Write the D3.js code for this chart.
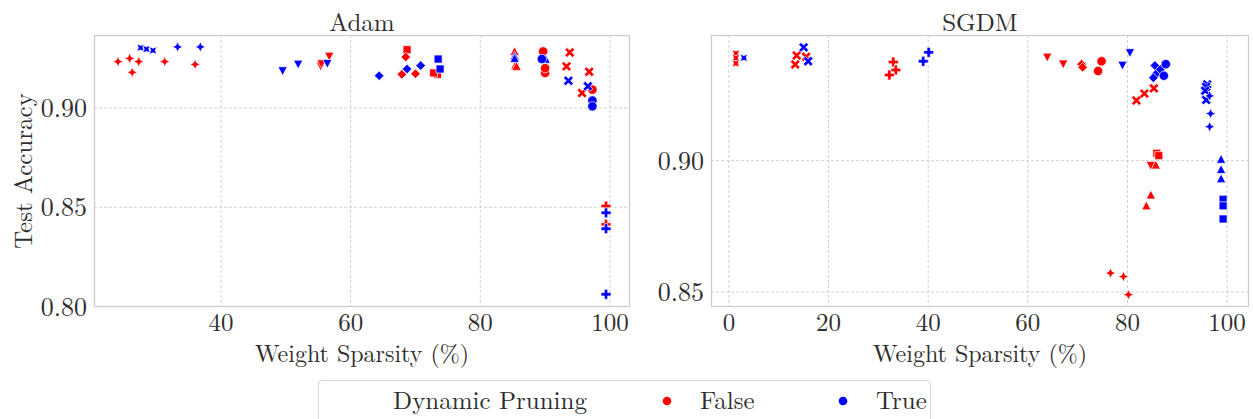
<!DOCTYPE html>
<html>
<head>
<meta charset="utf-8">
<script src="https://cdn.jsdelivr.net/npm/d3@7"></script>
<style>
  body { margin: 0; background: #fff; }
  svg text { font-family: "Latin Modern Roman", "CMU Serif", "Liberation Serif", serif; fill: #2e2e2e; }
</style>
</head>
<body>
<svg id="chart" width="1253" height="419"></svg>
<script>
// [sparsity %, test accuracy, marker]
// markers: o circle, X, s square, P plus, D diamond, S4 star, ^ up, S4r rotated star, v down
const adamFalse = [
  [24.1, 0.9233, 'S4'], [25.9, 0.9249, 'S4'], [27.3, 0.9233, 'S4'], [26.3, 0.9179, 'S4'],
  [31.3, 0.9233, 'S4'], [36.0, 0.9219, 'S4'],
  [55.4, 0.9209, 'v'], [56.7, 0.9259, 'v'], [55.5, 0.9221, 'v'],
  [68.7, 0.9293, 's'], [73.4, 0.9169, 's'], [72.8, 0.9176, 's'],
  [68.5, 0.9256, 'D'], [67.9, 0.9169, 'D'], [70.0, 0.9172, 'D'],
  [85.3, 0.9285, '^'], [85.4, 0.9215, '^'], [85.6, 0.9210, '^'],
  [89.7, 0.9284, 'o'], [90.0, 0.9176, 'o'], [90.0, 0.9200, 'o'],
  [93.8, 0.9279, 'X'], [93.3, 0.9209, 'X'], [96.8, 0.9182, 'X'], [95.7, 0.9075, 'X'],
  [97.3, 0.9092, 'o'],
  [99.4, 0.8506, 'P'], [99.4, 0.8414, 'P']
];
const adamTrue = [
  [27.6, 0.9303, 'S4r'], [28.5, 0.9296, 'S4r'], [29.5, 0.9289, 'S4r'], [33.3, 0.9307, 'S4'], [36.8, 0.9307, 'S4'],
  [49.5, 0.9186, 'v'], [51.9, 0.9219, 'v'], [56.4, 0.9223, 'v'],
  [64.4, 0.9162, 'D'], [68.7, 0.9196, 'D'], [70.8, 0.9213, 'D'],
  [73.5, 0.9246, 's'], [73.8, 0.9196, 's'],
  [85.3, 0.9262, '^'], [85.3, 0.9250, '^'], [90.1, 0.9246, '^'],
  [89.5, 0.9246, 'o'], [97.3, 0.9037, 'o'], [97.3, 0.9008, 'o'],
  [93.6, 0.9137, 'X'], [96.6, 0.9109, 'X'],
  [99.4, 0.8472, 'P'], [99.4, 0.8392, 'P'], [99.4, 0.8062, 'P']
];
const sgdmFalse = [
  [1.4, 0.9408, 'S4r'], [1.4, 0.9391, 'S4r'], [1.4, 0.9370, 'S4r'],
  [13.6, 0.9400, 'X'], [13.3, 0.9366, 'X'], [15.5, 0.9395, 'X'],
  [33.0, 0.9375, 'P'], [33.5, 0.9345, 'P'], [32.2, 0.9326, 'P'],
  [63.9, 0.9393, 'v'], [67.1, 0.9367, 'v'], [84.7, 0.8981, 'v'],
  [70.8, 0.9367, 'D'], [71.0, 0.9355, 'D'],
  [74.8, 0.9378, 'o'], [74.1, 0.9341, 'o'],
  [85.3, 0.9275, 'X'], [83.4, 0.9255, 'X'], [81.8, 0.9229, 'X'],
  [85.9, 0.9028, 's'], [86.3, 0.9019, 's'],
  [85.7, 0.8984, '^'], [84.7, 0.8870, '^'], [83.8, 0.8829, '^'],
  [76.6, 0.8572, 'S4'], [79.2, 0.8559, 'S4'], [80.2, 0.8490, 'S4']
];
const sgdmTrue = [
  [3.0, 0.9391, 'S4r'],
  [15.0, 0.9431, 'X'], [15.9, 0.9378, 'X'],
  [40.1, 0.9412, 'P'], [39.0, 0.9378, 'P'],
  [80.5, 0.9410, 'v'], [79.0, 0.9362, 'v'],
  [85.5, 0.9362, 'D'], [85.7, 0.9329, 'D'], [85.2, 0.9315, 'D'], [86.6, 0.9347, 'D'],
  [87.7, 0.9367, 'o'], [87.3, 0.9323, 'o'],
  [96.0, 0.9290, 'X'], [95.8, 0.9281, 'X'], [95.6, 0.9266, 'X'], [95.8, 0.9231, 'X'],
  [96.5, 0.9246, 'S4'], [96.7, 0.9179, 'S4'], [96.5, 0.9129, 'S4'],
  [98.8, 0.9006, '^'], [98.8, 0.8967, '^'], [98.8, 0.8932, '^'],
  [99.2, 0.8853, 's'], [99.2, 0.8828, 's'], [99.2, 0.8778, 's']
];

const adamXTicks = [40, 60, 80, 100];
const adamYTicks = [0.80, 0.85, 0.90];
const sgdmXTicks = [0, 20, 40, 60, 80, 100];
const sgdmYTicks = [0.85, 0.90];
const hueLevels = ['False', 'True'];
const hueColors = ['#ff0000', '#0000ff'];

const svg = d3.select('#chart');

function poly(pts) {
  return 'M' + pts.map(p => p[0].toFixed(2) + ',' + p[1].toFixed(2)).join('L') + 'Z';
}
function rotate(pts, deg) {
  const a = deg * Math.PI / 180;
  return pts.map(p => [p[0] * Math.cos(a) - p[1] * Math.sin(a), p[0] * Math.sin(a) + p[1] * Math.cos(a)]);
}
function star(outer, inner, deg) {
  const pts = [];
  for (let i = 0; i < 8; i++) {
    const r = i % 2 ? inner : outer;
    const a = (i * 45 + deg - 90) * Math.PI / 180;
    pts.push([r * Math.cos(a), r * Math.sin(a)]);
  }
  return poly(pts);
}
function plus(a, t) {
  return [[-t,-a],[t,-a],[t,-t],[a,-t],[a,t],[t,t],[t,a],[-t,a],[-t,t],[-a,t],[-a,-t],[-t,-t]];
}
function markerPath(m) {
  switch (m) {
    case 'o': return d3.symbol(d3.symbolCircle, Math.PI * 4.7 * 4.7)();
    case 's': return poly([[-4, -4], [4, -4], [4, 4], [-4, 4]]);
    case 'D': return poly([[0, -4.8], [4.8, 0], [0, 4.8], [-4.8, 0]]);
    case '^': return poly([[0, -4.6], [4.6, 4.2], [-4.6, 4.2]]);
    case 'v': return poly([[0, 4.6], [4.6, -4.2], [-4.6, -4.2]]);
    case 'P': return poly(plus(5, 1.7));
    case 'X': return poly(rotate(plus(5.4, 1.6), 45));
    case 'S4': return star(5.2, 2.3, 0);
    case 'S4r': return star(5.2, 2.3, 45);
  }
}

function drawPanel(cfg) {
  const x = d3.scaleLinear().domain(cfg.xDomain).range([cfg.left, cfg.right]);
  const y = d3.scaleLinear().domain(cfg.yDomain).range([cfg.bottom, cfg.top]);
  const g = svg.append('g');

  g.append('rect')
    .attr('x', cfg.left).attr('y', cfg.top)
    .attr('width', cfg.right - cfg.left).attr('height', cfg.bottom - cfg.top)
    .attr('fill', '#fff');

  g.selectAll('.vgrid').data(cfg.xTicks).enter().append('line')
    .attr('x1', d => x(d)).attr('x2', d => x(d))
    .attr('y1', cfg.top).attr('y2', cfg.bottom)
    .attr('stroke', '#d0d0d0').attr('stroke-width', 1).attr('stroke-dasharray', '3,2');
  g.selectAll('.hgrid').data(cfg.yTicks).enter().append('line')
    .attr('y1', d => y(d)).attr('y2', d => y(d))
    .attr('x1', cfg.left).attr('x2', cfg.right)
    .attr('stroke', '#d0d0d0').attr('stroke-width', 1).attr('stroke-dasharray', '3,2');

  g.append('rect')
    .attr('x', cfg.left + 0.5).attr('y', cfg.top + 0.5)
    .attr('width', cfg.right - cfg.left - 1).attr('height', cfg.bottom - cfg.top - 1)
    .attr('fill', 'none').attr('stroke', '#cccccc').attr('stroke-width', 1.25);

  g.selectAll('.xt').data(cfg.xTicks).enter().append('text')
    .attr('x', d => x(d)).attr('y', 331)
    .attr('text-anchor', 'middle').attr('font-size', 25)
    .text(d => d);
  g.selectAll('.yt').data(cfg.yTicks).enter().append('text')
    .attr('x', cfg.left - 7).attr('y', d => y(d) + 9)
    .attr('text-anchor', 'end').attr('font-size', 26)
    .text(d => d.toFixed(2));

  g.append('text')
    .attr('x', (cfg.left + cfg.right) / 2).attr('y', 31)
    .attr('text-anchor', 'middle').attr('font-size', 25)
    .text(cfg.title);
  g.append('text')
    .attr('x', (cfg.left + cfg.right) / 2).attr('y', 362)
    .attr('text-anchor', 'middle').attr('font-size', 24)
    .text('Weight Sparsity (%)');

  const pts = cfg.series.flatMap((s, i) => s.map(d => ({ x: d[0], y: d[1], m: d[2], c: hueColors[i] })));
  g.selectAll('.pt').data(pts).enter().append('path')
    .attr('d', d => markerPath(d.m))
    .attr('transform', d => `translate(${x(d.x)},${y(d.y)})`)
    .attr('fill', d => d.c)
    .attr('stroke', '#fff').attr('stroke-width', 0.7);
}

drawPanel({
  title: 'Adam', left: 94, right: 630, top: 35, bottom: 307,
  xDomain: [20.4, 103.1], yDomain: [0.7998, 0.9367],
  xTicks: adamXTicks, yTicks: adamYTicks, series: [adamFalse, adamTrue]
});
drawPanel({
  title: 'SGDM', left: 711, right: 1249, top: 35, bottom: 307,
  xDomain: [-3.6, 104.4], yDomain: [0.8443, 0.9478],
  xTicks: sgdmXTicks, yTicks: sgdmYTicks, series: [sgdmFalse, sgdmTrue]
});

svg.append('text')
  .attr('transform', 'translate(32,171) rotate(-90)')
  .attr('text-anchor', 'middle').attr('font-size', 25)
  .text('Test Accuracy');

// legend
const legend = svg.append('g');
legend.append('rect')
  .attr('x', 318.5).attr('y', 380.5).attr('width', 612).attr('height', 60).attr('rx', 4)
  .attr('fill', '#fff').attr('stroke', '#d6d6d6');
legend.append('text').attr('x', 490).attr('y', 409)
  .attr('text-anchor', 'middle').attr('font-size', 25).text('Dynamic Pruning');
const legendX = [667, 843];
hueLevels.forEach((lab, i) => {
  legend.append('circle').attr('cx', legendX[i]).attr('cy', 401).attr('r', 4.3).attr('fill', hueColors[i]);
  legend.append('text').attr('x', legendX[i] + 33).attr('y', 409).attr('font-size', 25).text(lab);
});
</script>
</body>
</html>
